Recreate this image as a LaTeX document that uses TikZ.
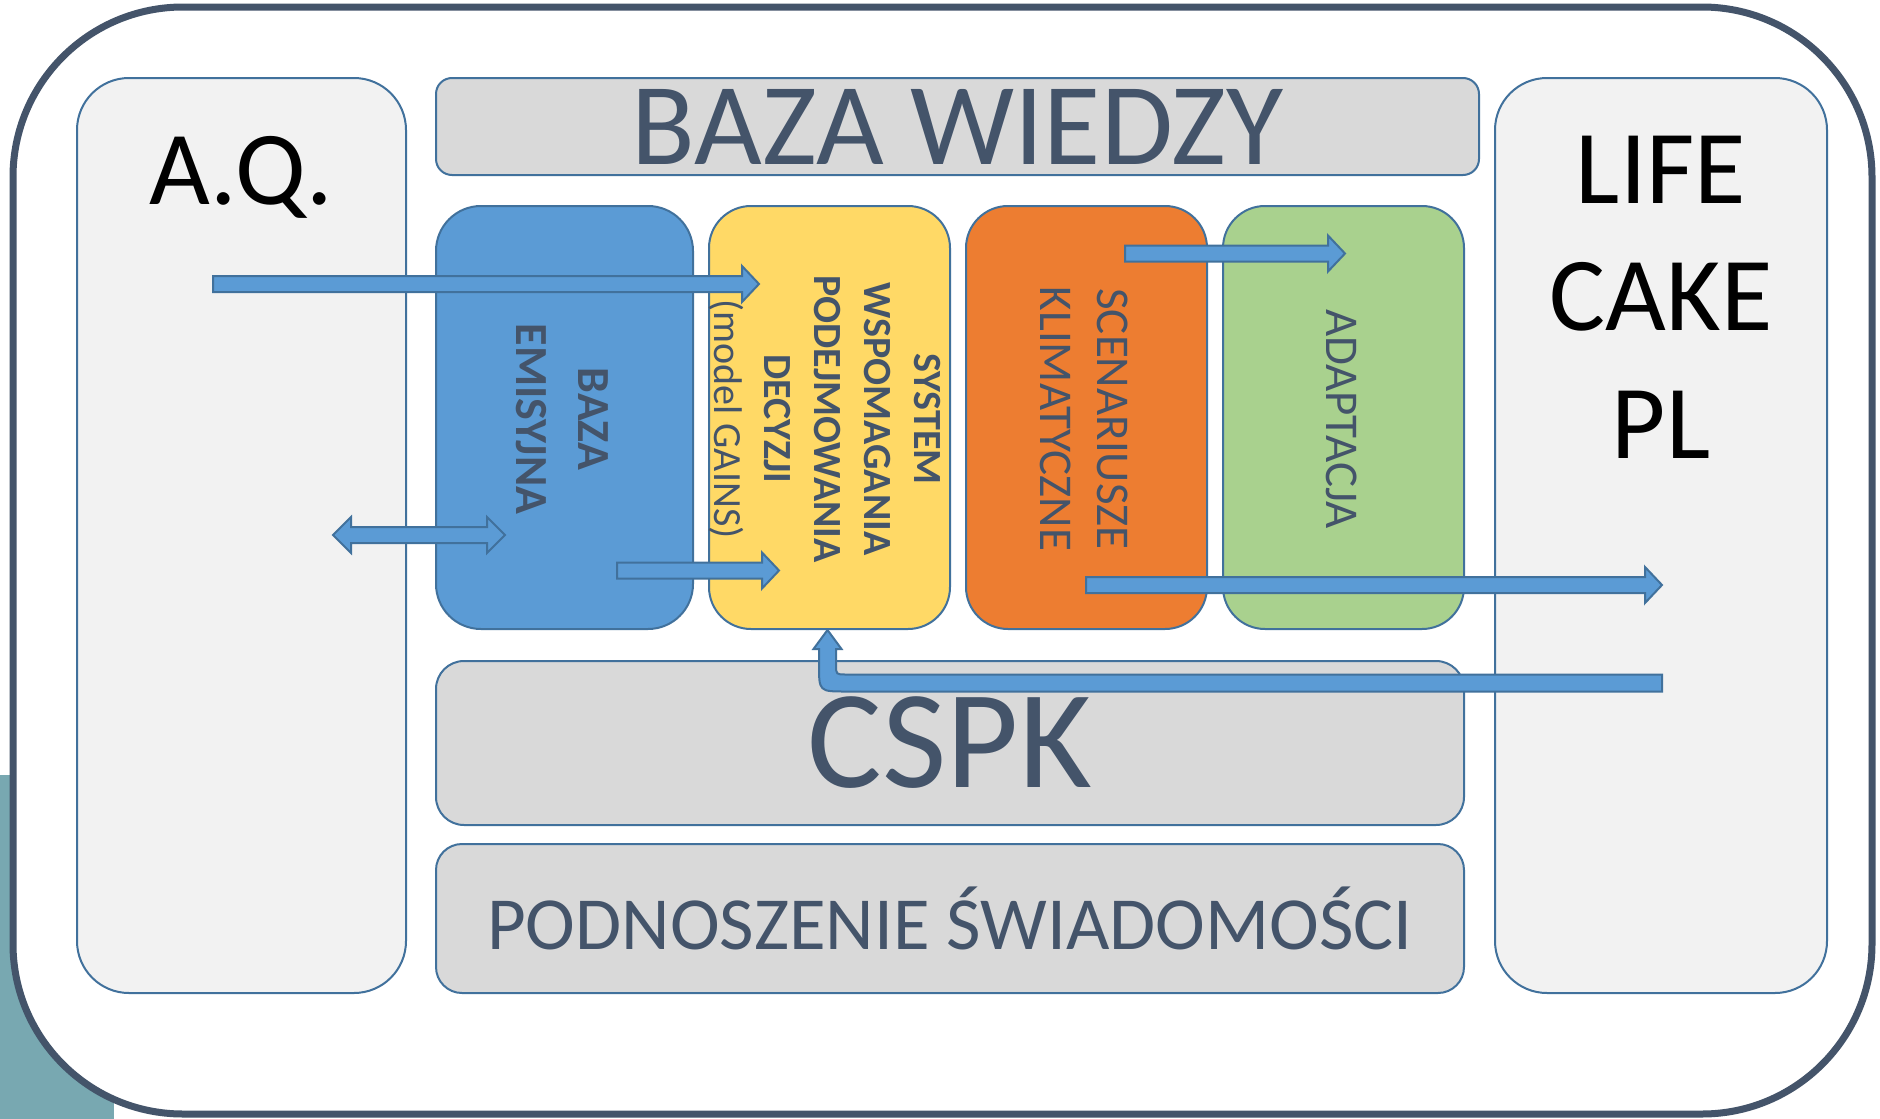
\documentclass[tikz,border=0pt]{standalone}
\usepackage{fontspec}
\setmainfont{Carlito}
\usetikzlibrary{calc}
\definecolor{frameC}{HTML}{44546A}
\definecolor{edgeC}{HTML}{41719C}
\definecolor{paleC}{HTML}{F2F2F2}
\definecolor{greyC}{HTML}{D9D9D9}
\definecolor{blueC}{HTML}{5B9BD5}
\definecolor{yellowC}{HTML}{FFD966}
\definecolor{orangeC}{HTML}{ED7D31}
\definecolor{greenC}{HTML}{A9D18E}
\definecolor{tealC}{HTML}{78A8B1}
\definecolor{txtC}{HTML}{44546A}
\newcommand{\setfsz}[2]{\fontsize{#1}{#2}\selectfont}
\newcommand{\blkarrow}[2]{%
  \path[blockarrow] ($(#1)+(0,-8)$) -- ($(#2)+(-17,-8)$) -- ($(#2)+(-17,-18)$) -- (#2)
    -- ($(#2)+(-17,18)$) -- ($(#2)+(-17,8)$) -- ($(#1)+(0,8)$) -- cycle;}
\tikzset{
  box/.style={draw=edgeC, line width=2pt, inner sep=0pt, outer sep=0pt, anchor=north west},
  blockarrow/.style={draw=edgeC, fill=blueC, line width=2pt, line join=miter},
  vlabel/.style={rotate=-90, align=center, text=txtC, inner sep=0pt},
}
\begin{document}
\begin{tikzpicture}[x=1pt,y=-1pt]
\useasboundingbox (0,0) rectangle (1880,1119);
% background teal patch
\fill[tealC] (0,775) rectangle (114,1119);
% outer frame
\node[draw=frameC, fill=white, line width=7pt, rounded corners=170pt, minimum width=1859pt,
      minimum height=1107pt, inner sep=0pt, outer sep=0pt] (frame) at (942.5,560.5) {};
% side columns
\node[box, fill=paleC, minimum width=329pt, minimum height=915pt, rounded corners=52pt] (aq) at (77,78) {};
\node[box, fill=paleC, minimum width=332pt, minimum height=915pt, rounded corners=52pt] (life) at (1495,78) {};
% knowledge base header
\node[box, fill=greyC, minimum width=1043pt, minimum height=97pt, rounded corners=16pt,
      text=txtC, font=\setfsz{117}{134}] (bw) at (436,78) {BAZA WIEDZY};
% coloured modules
\node[box, fill=blueC, minimum width=257pt, minimum height=423pt, rounded corners=45pt] (emis) at (436,206) {};
\node[box, fill=yellowC, minimum width=241pt, minimum height=423pt, rounded corners=42pt] (sys) at (709,206) {};
\node[box, fill=orangeC, minimum width=241pt, minimum height=423pt, rounded corners=42pt] (scen) at (966,206) {};
\node[box, fill=greenC, minimum width=241pt, minimum height=423pt, rounded corners=42pt] (adap) at (1223,206) {};
% bottom bars
\node[box, fill=greyC, minimum width=1028pt, minimum height=164pt, rounded corners=28pt,
      text=txtC, font=\setfsz{140}{160}] (cspk) at (436,661) {CSPK};
\node[box, fill=greyC, minimum width=1028pt, minimum height=149pt, rounded corners=26pt,
      text=txtC, font=\setfsz{75}{90}] (pod) at (436,844) {PODNOSZENIE ŚWIADOMOŚCI};
% column titles
\node[anchor=base, inner sep=0pt, font=\setfsz{105}{127.5}] (aqt) at (241,204) {A.Q.};
\node[align=center, inner sep=0pt, font=\setfsz{105}{127.5}] (lifet) at (1661,297) {LIFE\\CAKE\\PL};
% vertical labels
\node[vlabel, font=\bfseries\setfsz{46}{62}] (emist) at (562,419) {BAZA\\EMISYJNA};
\node[vlabel, font=\setfsz{40}{50}] (syst) at (825,419)
  {\textbf{SYSTEM}\\\textbf{WSPOMAGANIA}\\\textbf{PODEJMOWANIA}\\\textbf{DECYZJI}\\(model GAINS)};
\node[vlabel, font=\setfsz{47}{57}] (scent) at (1084,419) {SCENARIUSZE\\KLIMATYCZNE};
\node[vlabel, font=\setfsz{47}{57}] (adapt) at (1342,419) {ADAPTACJA};
% arrow end points
\coordinate (a1s) at (213,284);    \coordinate (a1e) at (759,284);
\coordinate (a2l) at (333,535);    \coordinate (a2r) at (505,535);
\coordinate (a3s) at (617,570.5);  \coordinate (a3e) at (779,570.5);
\coordinate (a4s) at (1125,253.5); \coordinate (a4e) at (1345,253.5);
\coordinate (a5s) at (1086,585);   \coordinate (a5e) at (1662,585);
\coordinate (a6s) at (1662,683);   \coordinate (a6e) at (827.5,630);
% arrows
\blkarrow{a1s}{a1e}
\path[blockarrow] (a2l) -- ($(a2l)+(18,-18)$) -- ($(a2l)+(18,-8)$) -- ($(a2r)+(-18,-8)$)
  -- ($(a2r)+(-18,-18)$) -- (a2r) -- ($(a2r)+(-18,18)$) -- ($(a2r)+(-18,8)$)
  -- ($(a2l)+(18,8)$) -- ($(a2l)+(18,18)$) -- cycle;
\blkarrow{a3s}{a3e}
\blkarrow{a4s}{a4e}
\blkarrow{a5s}{a5e}
\path[blockarrow] ($(a6s)+(0,-8.5)$) -- ($(a6e|-a6s)+(18.5,-8.5)$)
  .. controls ($(a6e|-a6s)+(8.5,-8.5)$) .. ($(a6e|-a6s)+(8.5,-18.5)$)
  -- ($(a6e)+(8.5,19)$) -- ($(a6e)+(14,19)$) -- (a6e) -- ($(a6e)+(-14,19)$) -- ($(a6e)+(-8.5,19)$)
  -- ($(a6e|-a6s)+(-8.5,-18.5)$)
  .. controls ($(a6e|-a6s)+(-8.5,8.5)$) .. ($(a6e|-a6s)+(18.5,8.5)$)
  -- ($(a6s)+(0,8.5)$) -- cycle;
\end{tikzpicture}
\end{document}
